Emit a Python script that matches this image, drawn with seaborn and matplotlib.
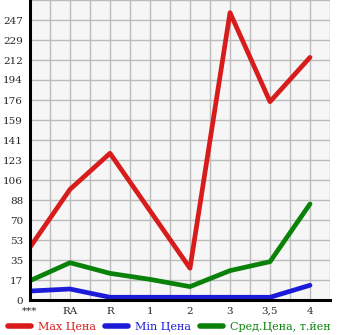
import matplotlib
matplotlib.use("Agg")
import matplotlib.pyplot as plt
import seaborn as sns
import pandas as pd
import numpy as np

categories = ["***", "RA", "R", "1", "2", "3", "3,5", "4"]
max_price = [46.5, 97.6, 129.4, 78.7, 28.0, 253.4, 174.9, 214.0]
min_price = [7.9, 9.7, 2.4, 2.4, 2.4, 2.4, 2.4, 13.0]
avg_price = [17.0, 32.9, 23.5, 18.2, 11.8, 25.9, 33.8, 84.7]
series_names = ["Max Цена", "Min Цена", "Сред.Цена, т.йен"]
series_colors = ["#d81c1c", "#1c1cd8", "#0a820a"]
y_tick_labels = ["0", "17", "35", "53", "70", "88", "106", "123", "141", "159",
                 "176", "194", "212", "229", "247", ""]

rows = []
for name, vals in zip(series_names, [max_price, min_price, avg_price]):
    for i, (c, v) in enumerate(zip(categories, vals)):
        rows.append({"pos": i, "cat": c, "value": v, "series": name})
df = pd.DataFrame(rows)

sns.set_style("white")
plt.rcParams["font.family"] = ["DejaVu Serif"]

fig = plt.figure(figsize=(3.45, 3.35), dpi=100)
ax = fig.add_axes([30 / 345, 35 / 335, 300 / 345, 300 / 335])
ax.set_facecolor("#f6f6f6")

sns.lineplot(data=df, x="pos", y="value", hue="series",
             palette=dict(zip(series_names, series_colors)),
             hue_order=series_names, sort=False, linewidth=3.4,
             legend=False, ax=ax, solid_capstyle="round")

step = 264.6 / 15
ax.set_ylim(0, 264.6)
ax.set_xlim(0, 7.5)
ax.set_yticks([k * step for k in range(16)])
ax.set_yticklabels(y_tick_labels, fontsize=7.5)
ax.set_xticks(range(len(categories)))
ax.set_xticklabels(categories, fontsize=7.5)
ax.set_xticks(np.arange(0.5, 7.6, 1.0), minor=True)
ax.grid(True, which="both", color="#bbbbbb", linewidth=1.0)
ax.set_axisbelow(True)
ax.tick_params(axis="both", which="both", direction="out", length=3,
               width=1, color="black", pad=2)
ax.set_xlabel("")
ax.set_ylabel("")
for s in ["top", "right"]:
    ax.spines[s].set_visible(False)
for s in ["left", "bottom"]:
    ax.spines[s].set_color("black")
    ax.spines[s].set_linewidth(2.2)

handles = [plt.Line2D([], [], color=c, linewidth=4, solid_capstyle="round")
           for c in series_colors]
leg = fig.legend(handles, series_names, loc="lower center", ncol=3,
                 bbox_to_anchor=(0.49, -0.022), frameon=False, fontsize=8,
                 handlelength=2.1, handletextpad=0.6, columnspacing=0.8,
                 labelcolor=series_colors)

fig.savefig("out.png", dpi=100)
